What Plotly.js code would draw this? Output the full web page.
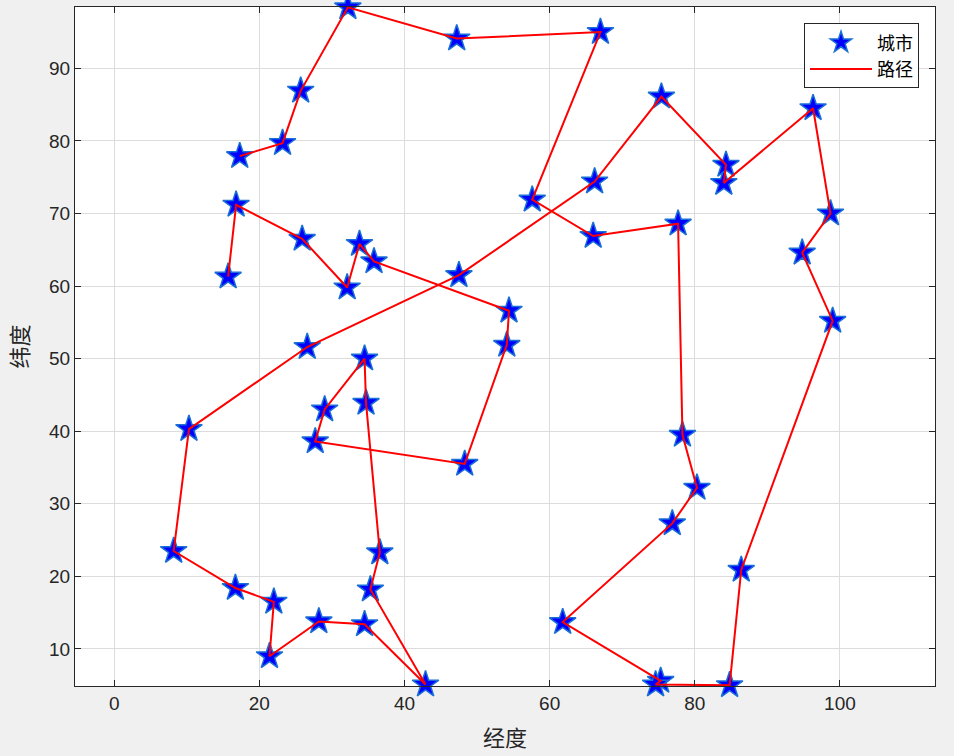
<!DOCTYPE html>
<html>
<head>
<meta charset="utf-8">
<script src="https://cdn.plot.ly/plotly-3.0.1.min.js"></script>
<style>
  html, body { margin: 0; padding: 0; background: #f0f0f0; }
  #chart { width: 954px; height: 756px; }
</style>
</head>
<body>
<div id="chart"></div>
<script>
// Route through the cities, in visiting order (longitude, latitude)
const routeX = [17.3, 23.2, 25.7, 32.2, 47.2, 67.0, 57.6, 66.0, 77.7, 78.3,
                80.3, 76.9, 61.8, 75.3, 74.6, 84.8, 86.4, 99.0, 94.8, 98.7,
                96.3, 84.0, 84.3, 75.4, 66.2, 47.5, 26.6, 10.3, 8.2, 16.7,
                22.0, 21.4, 28.2, 34.5, 42.9, 35.3, 36.6, 34.7, 34.5, 29.0,
                27.7, 48.3, 54.1, 54.4, 35.8, 33.8, 32.1, 25.9, 16.8, 15.7];
const routeY = [77.9, 79.7, 86.9, 98.4, 94.1, 95.0, 71.9, 66.9, 68.6, 39.5,
                32.2, 27.3, 13.7, 5.6, 5.1, 5.0, 20.9, 55.2, 64.6, 70.0,
                84.5, 74.2, 76.7, 86.1, 74.4, 61.5, 51.6, 40.3, 23.5, 18.4,
                16.5, 9.0, 13.8, 13.4, 5.1, 18.2, 23.3, 43.9, 50.0, 43.0,
                38.6, 35.5, 51.9, 56.6, 63.4, 65.8, 59.8, 66.5, 71.2, 61.3];
const xTicks = [0, 20, 40, 60, 80, 100];
const yTicks = [10, 20, 30, 40, 50, 60, 70, 80, 90];
const cityName = '城市';
const routeName = '路径';
const xLabel = '经度';
const yLabel = '纬度';

const traces = [
  {
    x: routeX, y: routeY, type: 'scatter', mode: 'markers', name: cityName,
    marker: { symbol: 'star', size: 20, color: '#0000ff',
              line: { color: '#1a6fd6', width: 1.5 } },
    cliponaxis: false
  },
  {
    x: routeX, y: routeY, type: 'scatter', mode: 'lines', name: routeName,
    line: { color: '#ff0000', width: 2 }
  }
];

const axisCommon = {
  showline: true, linecolor: '#262626', linewidth: 1, mirror: 'ticks',
  ticks: 'inside', ticklen: 6, tickcolor: '#262626', tickwidth: 1,
  showgrid: true, gridcolor: '#dcdcdc', gridwidth: 1, zeroline: false,
  tickfont: { family: 'Liberation Sans, Arial, sans-serif', size: 19, color: '#262626' }
};

const layout = {
  width: 954, height: 756,
  paper_bgcolor: '#f0f0f0', plot_bgcolor: '#ffffff',
  margin: { l: 75, r: 19, t: 7, b: 70 },
  showlegend: true,
  legend: {
    x: 0.9814, y: 0.976, xanchor: 'right', yanchor: 'top',
    bgcolor: '#ffffff', bordercolor: '#262626', borderwidth: 1,
    font: { family: 'Noto Sans CJK SC, sans-serif', size: 18, color: '#000000' },
    tracegroupgap: 0, itemwidth: 62
  },
  xaxis: Object.assign({}, axisCommon, {
    range: [-5.4, 113.1], tickvals: xTicks, ticktext: xTicks.map(String),
    title: { text: xLabel, standoff: 17,
             font: { family: 'Noto Sans CJK SC, sans-serif', size: 22, color: '#262626' } }
  }),
  yaxis: Object.assign({}, axisCommon, {
    range: [4.9, 98.45], tickvals: yTicks, ticktext: yTicks.map(String),
    title: { text: yLabel, standoff: 14,
             font: { family: 'Noto Sans CJK SC, sans-serif', size: 22, color: '#262626' } }
  })
};

Plotly.newPlot('chart', traces, layout, { displayModeBar: false, staticPlot: true });
</script>
</body>
</html>
